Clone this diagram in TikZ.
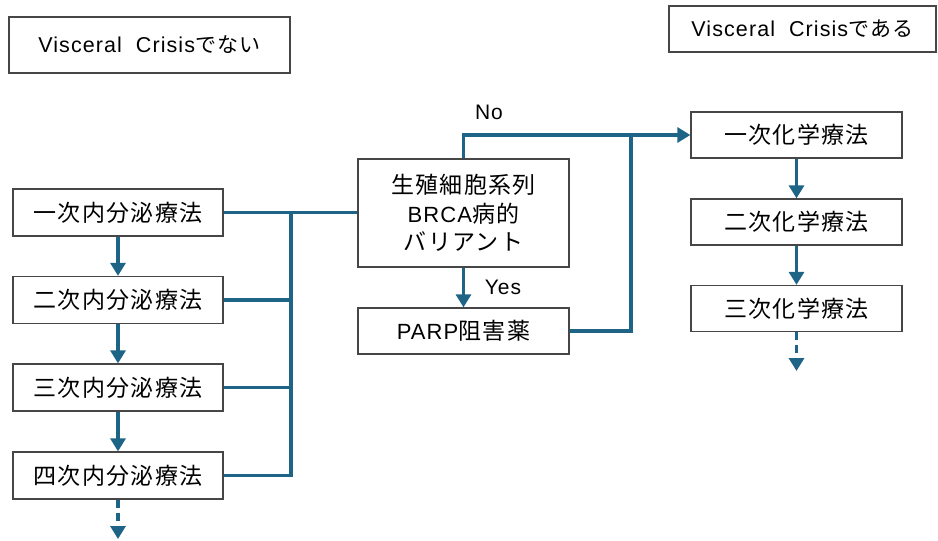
\documentclass[tikz,border=0pt]{standalone}
\usepackage{fontspec}
\setmainfont{Liberation Sans}[LetterSpace=5]
\newfontfamily\jp{Noto Sans CJK JP}[LetterSpace=6]
\usetikzlibrary{arrows.meta}
\definecolor{flow}{RGB}{30,100,135}
\definecolor{edge}{RGB}{70,70,70}
\begin{document}
\begin{tikzpicture}[x=1pt,y=-1pt,
  box/.style={draw=edge, line width=1.3pt, fill=white, inner sep=0pt,
    font=\jp\fontsize{23}{28.5}\selectfont, align=center},
  lbox/.style={box, minimum width=210pt, minimum height=47pt},
  rbox/.style={box, minimum width=211pt, minimum height=46pt},
  conn/.style={draw=flow, line width=3.2pt},
  arr/.style={conn, -{Triangle[width=15pt,length=13pt]}},
  dasharr/.style={arr, dash pattern=on 8pt off 5pt},
  lab/.style={font=\fontsize{21}{24}\selectfont, inner sep=0pt},
]
\useasboundingbox (0,0) rectangle (938,541);

% header labels
\node[box, minimum width=281pt, minimum height=56pt] (hdl) at (149.5,45)
  {\rmfamily\fontsize{21.5}{24}\selectfont Visceral\hspace{14pt}Crisis\jp\fontsize{21}{24}\selectfont でない};
\node[box, minimum width=267pt, minimum height=46pt] (hdr) at (802.5,29)
  {\rmfamily\fontsize{21.5}{24}\selectfont Visceral\hspace{14pt}Crisis\jp\fontsize{21}{24}\selectfont である};

% left column
\node[lbox] (l1) at (118,212.5) {一次内分泌療法};
\node[lbox] (l2) at (118,300) {二次内分泌療法};
\node[lbox] (l3) at (118,387.5) {三次内分泌療法};
\node[lbox] (l4) at (118,475.5) {四次内分泌療法};
\coordinate (lend) at (118,539);

% middle
\node[box, minimum width=211pt, minimum height=108pt] (brca) at (463.5,213)
  {生殖細胞系列\\{\rmfamily\fontsize{22}{28.5}\selectfont BRCA}病的\\バリアント};
\node[rbox] (parp) at (463.5,331) {{\rmfamily\fontsize{22}{28.5}\selectfont PARP}阻害薬};

% right column
\node[rbox] (r1) at (796.5,135) {一次化学療法};
\node[rbox] (r2) at (796.5,222) {二次化学療法};
\node[rbox] (r3) at (796.5,308.5) {三次化学療法};
\coordinate (rend) at (796.5,371);

% bus coordinates
\coordinate (lbus) at (291,212.5);
\coordinate (rbus) at (631,135);

% left connectors
\draw[arr] (l1) -- (l2);
\draw[arr] (l2) -- (l3);
\draw[arr] (l3) -- (l4);
\draw[dasharr] (l4) -- (lend);
\draw[conn] (l1.east) -- (l1.east -| brca.west);
\draw[conn] (l2.east) -- (l2.east -| lbus);
\draw[conn] (l3.east) -- (l3.east -| lbus);
\draw[conn] (l4.east) -| (lbus);

% middle connectors
\draw[arr] (brca) -- (parp);
\draw[arr] (brca.north) |- (r1.west);
\draw[conn] (parp.east) -| (rbus);

% right connectors
\draw[arr] (r1) -- (r2);
\draw[arr] (r2) -- (r3);
\draw[dasharr] (r3) -- (rend);

% labels
\node[lab] (no) at (489,112) {No};
\node[lab] (yes) at (503,287) {Yes};
\end{tikzpicture}
\end{document}
